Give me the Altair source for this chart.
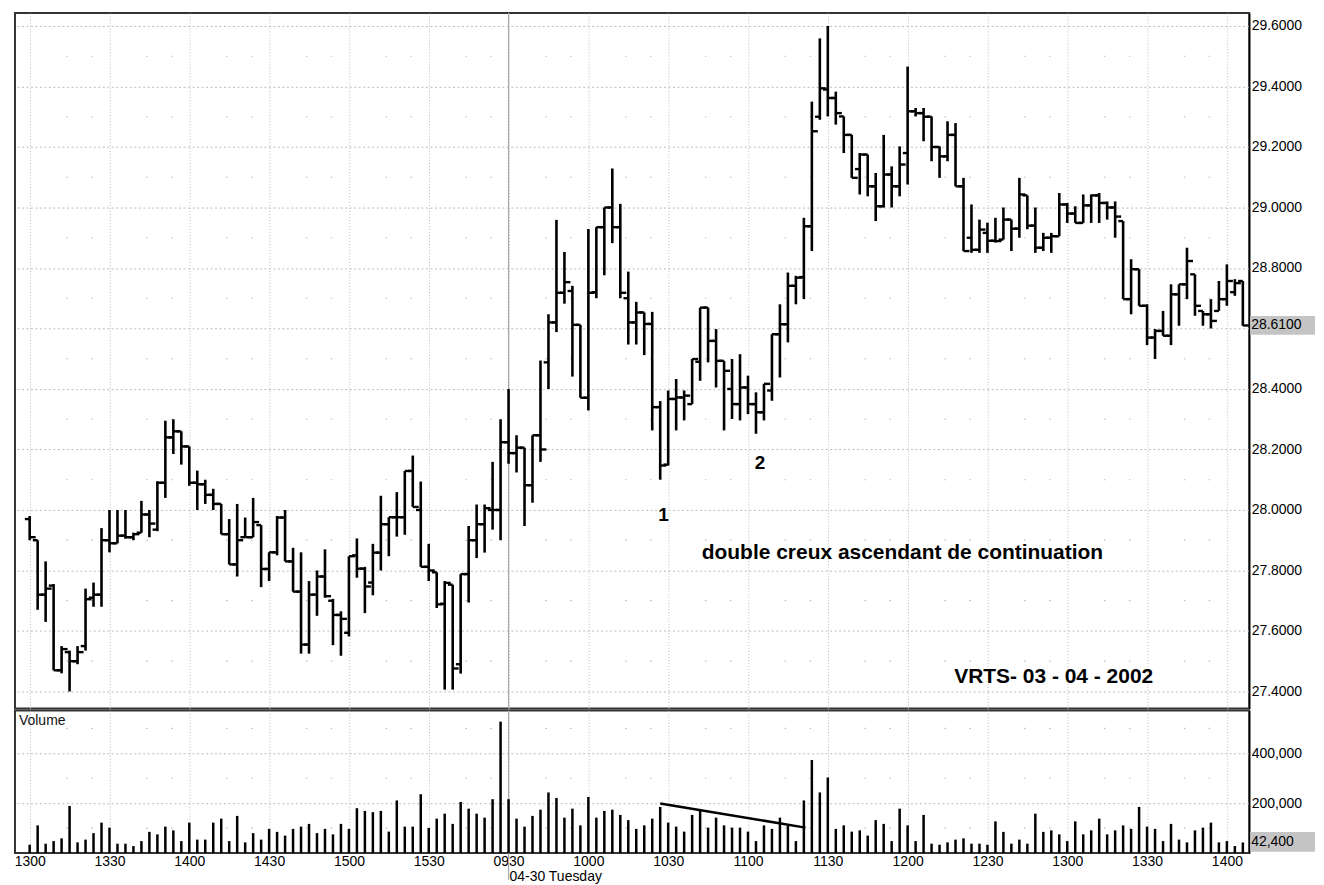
import json
import altair as alt
import pandas as pd

# ---------------- data ----------------
time_labels = ["1300", "1330", "1400", "1430", "1500", "1530", "0930", "1000",
               "1030", "1100", "1130", "1200", "1230", "1300", "1330", "1400"]

opens = [27.97, 27.90, 27.72, 27.75, 27.47, 27.53, 27.50, 27.55, 27.71, 27.72,
         27.90, 27.89, 27.915, 27.91, 27.925, 27.985, 27.935, 28.09, 28.24, 28.26,
         28.21, 28.09, 28.085, 28.05, 28.02, 27.92, 27.82, 27.91, 27.91, 27.95,
         27.805, 27.86, 27.975, 27.83, 27.73, 27.555, 27.72, 27.78, 27.70, 27.653,
         27.594, 27.85, 27.806, 27.76, 27.859, 27.953, 27.976, 27.976, 28.129, 28.0,
         27.812, 27.794, 27.69, 27.753, 27.49, 27.788, 27.90, 27.953, 28.0, 28.0,
         28.224, 28.188, 28.206, 28.082, 28.247, 28.488, 28.62, 28.718, 28.724, 28.612,
         28.371, 28.72, 28.935, 29.0, 28.935, 28.70, 28.62, 28.653, 28.615, 28.34,
         28.15, 28.367, 28.372, 28.35, 28.49, 28.669, 28.559, 28.493, 28.40, 28.35,
         28.405, 28.35, 28.323, 28.395, 28.581, 28.614, 28.741, 28.77, 28.938, 29.30,
         29.39, 29.362, 29.301, 29.24, 29.127, 29.175, 29.07, 29.004, 29.109, 29.07,
         29.18, 29.318, 29.312, 29.30, 29.20, 29.169, 29.24, 29.07, 28.90, 28.86,
         28.916, 28.89, 28.894, 28.96, 28.93, 29.04, 28.94, 28.867, 28.90, 28.905,
         29.01, 28.98, 28.949, 29.007, 29.04, 29.015, 29.0, 28.955, 28.697, 28.796,
         28.675, 28.57, 28.592, 28.576, 28.713, 28.746, 28.779, 28.658, 28.647, 28.658,
         28.697, 28.72, 28.757]

highs = [27.98, 27.90, 27.83, 27.755, 27.55, 27.535, 27.55, 27.74, 27.76, 27.94,
         28.00, 28.00, 28.00, 27.925, 28.03, 28.00, 28.095, 28.295, 28.30, 28.26,
         28.21, 28.13, 28.10, 28.07, 28.02, 27.97, 28.02, 27.975, 28.04, 27.95,
         27.86, 27.98, 28.00, 27.875, 27.86, 27.765, 27.80, 27.87, 27.706, 27.665,
         27.847, 27.906, 27.812, 27.888, 28.047, 27.976, 28.059, 28.129, 28.18, 28.094,
         27.888, 27.794, 27.765, 27.753, 27.788, 27.947, 28.018, 28.018, 28.159, 28.30,
         28.40, 28.247, 28.206, 28.247, 28.494, 28.647, 28.959, 28.853, 28.741, 28.612,
         28.929, 28.935, 29.00, 29.129, 29.012, 28.788, 28.688, 28.653, 28.655, 28.36,
         28.395, 28.433, 28.395, 28.499, 28.669, 28.669, 28.598, 28.493, 28.499, 28.515,
         28.444, 28.389, 28.417, 28.581, 28.68, 28.785, 28.774, 28.966, 29.35, 29.559,
         29.60, 29.383, 29.301, 29.24, 29.18, 29.175, 29.114, 29.24, 29.136, 29.202,
         29.466, 29.329, 29.329, 29.301, 29.202, 29.285, 29.279, 29.098, 29.01, 28.96,
         28.95, 28.966, 29.0, 28.96, 29.098, 29.04, 29.0, 28.916, 28.916, 29.048,
         29.015, 29.004, 29.043, 29.043, 29.048, 29.02, 29.02, 28.955, 28.829, 28.796,
         28.68, 28.598, 28.658, 28.746, 28.746, 28.867, 28.779, 28.658, 28.697, 28.757,
         28.812, 28.763, 28.757]

lows = [27.90, 27.67, 27.63, 27.47, 27.46, 27.40, 27.49, 27.535, 27.68, 27.68,
        27.86, 27.89, 27.905, 27.90, 27.925, 27.91, 27.93, 28.04, 28.185, 28.15,
        28.08, 28.00, 28.02, 28.00, 27.92, 27.82, 27.78, 27.91, 27.91, 27.745,
        27.765, 27.85, 27.83, 27.73, 27.525, 27.525, 27.65, 27.71, 27.553, 27.518,
        27.582, 27.776, 27.659, 27.718, 27.80, 27.847, 27.912, 27.918, 28.01, 27.812,
        27.765, 27.676, 27.406, 27.406, 27.459, 27.694, 27.841, 27.859, 27.935, 27.90,
        28.153, 28.124, 27.947, 28.024, 28.159, 28.40, 28.588, 28.682, 28.441, 28.371,
        28.329, 28.70, 28.776, 28.882, 28.70, 28.547, 28.547, 28.512, 28.263, 28.10,
        28.147, 28.263, 28.296, 28.35, 28.427, 28.488, 28.405, 28.263, 28.301, 28.296,
        28.317, 28.252, 28.296, 28.361, 28.438, 28.554, 28.68, 28.697, 28.856, 29.29,
        29.301, 29.274, 29.18, 29.098, 29.043, 29.037, 28.955, 29.0, 29.0, 29.037,
        29.076, 29.301, 29.219, 29.153, 29.098, 29.153, 29.07, 28.856, 28.85, 28.85,
        28.85, 28.884, 28.894, 28.856, 28.90, 28.928, 28.85, 28.856, 28.85, 28.905,
        28.949, 28.949, 28.949, 28.949, 28.949, 28.96, 28.90, 28.697, 28.647, 28.675,
        28.545, 28.499, 28.576, 28.545, 28.609, 28.697, 28.642, 28.609, 28.60, 28.658,
        28.675, 28.708, 28.609]

closes = [27.91, 27.72, 27.74, 27.47, 27.54, 27.50, 27.53, 27.705, 27.72, 27.90,
          27.89, 27.915, 27.91, 27.92, 27.985, 27.955, 28.09, 28.24, 28.26, 28.21,
          28.09, 28.085, 28.05, 28.02, 27.92, 27.82, 27.90, 27.91, 27.96, 27.805,
          27.86, 27.975, 27.83, 27.73, 27.555, 27.72, 27.78, 27.715, 27.653, 27.64,
          27.847, 27.806, 27.747, 27.859, 27.953, 27.976, 27.976, 28.129, 28.01, 27.812,
          27.80, 27.688, 27.759, 27.476, 27.788, 27.90, 27.953, 28.006, 28.0, 28.224,
          28.188, 28.206, 28.082, 28.247, 28.20, 28.62, 28.718, 28.753, 28.612, 28.371,
          28.718, 28.935, 29.00, 28.935, 28.718, 28.62, 28.653, 28.615, 28.34, 28.147,
          28.367, 28.372, 28.378, 28.499, 28.669, 28.559, 28.493, 28.46, 28.35, 28.405,
          28.35, 28.323, 28.417, 28.581, 28.614, 28.741, 28.768, 28.938, 29.252, 29.394,
          29.362, 29.312, 29.24, 29.098, 29.175, 29.07, 29.004, 29.109, 29.07, 29.142,
          29.318, 29.312, 29.30, 29.20, 29.169, 29.24, 29.07, 28.856, 28.86, 28.927,
          28.89, 28.889, 28.96, 28.93, 29.043, 28.94, 28.867, 28.90, 28.905, 29.01,
          28.98, 28.949, 29.007, 29.04, 29.015, 29.0, 28.97, 28.697, 28.796, 28.675,
          28.57, 28.592, 28.576, 28.713, 28.746, 28.823, 28.675, 28.647, 28.625, 28.697,
          28.757, 28.75, 28.61]

volumes = [33500, 111000, 37600, 48000, 59000, 189000, 43000, 54000, 80000, 122000,
           102000, 37600, 37600, 28000, 48000, 85000, 75000, 106000, 91000, 48000,
           122000, 54000, 54000, 122000, 138000, 48000, 149000, 43000, 80000, 54000,
           97000, 85000, 70000, 97000, 106000, 117000, 80000, 97000, 75000, 117000,
           97000, 180000, 169000, 164000, 169000, 86000, 211000, 106000, 106000, 236000,
           101000, 138000, 158000, 117000, 205000, 178000, 158000, 142000, 216000, 527000,
           216000, 138000, 106000, 149000, 174000, 243000, 221000, 142000, 178000, 111000,
           225000, 142000, 169000, 174000, 153000, 132000, 97000, 111000, 138000, 185000,
           122000, 106000, 86000, 153000, 169000, 102000, 142000, 111000, 102000, 102000,
           86000, 48000, 111000, 97000, 142000, 111000, 48000, 211000, 373000, 243000,
           303000, 97000, 111000, 86000, 91000, 70000, 132000, 117000, 48000, 178000,
           111000, 48000, 153000, 37600, 33500, 43000, 54000, 59000, 37600, 37600,
           33500, 127000, 85000, 37600, 54000, 37600, 158000, 85000, 91000, 75000,
           48000, 127000, 75000, 91000, 138000, 75000, 91000, 111000, 97000, 185000,
           106000, 97000, 48000, 117000, 54000, 43000, 91000, 102000, 122000, 43000,
           48000, 28000, 42400]

# volume trend line (bar index, volume)
trend_i = [79, 97.2]
trend_v = [199000, 102000]

# text annotations in the price panel (bar index, price)
note_text = ["1", "2", "double creux ascendant de continuation", "VRTS- 03 - 04 - 2002"]
note_i = [79.4, 91.5, 109.35, 128.3]
note_p = [27.984, 28.155, 27.859, 27.447]
note_size = [19, 19, 21, 21]

price_ticks = [27.4, 27.6, 27.8, 28.0, 28.2, 28.4, 28.6, 28.8, 29.0, 29.2, 29.4, 29.6]
price_minor = [27.5, 27.7, 27.9, 28.1, 28.3, 28.5, 28.7, 28.9, 29.1, 29.3, 29.5]
vol_ticks = [200000, 400000]
vol_minor = [100000, 300000, 500000]
day_break = 60  # first bar of 04-30

# ---------------- build ----------------
n = len(closes)
bars = pd.DataFrame({"i": list(range(n)), "open": opens, "high": highs,
                     "low": lows, "close": closes, "volume": volumes})

W, HP, HV = 1237, 697, 143
FONT = "Liberation Sans"
GRID = "#bcbcbc"

xs = alt.Scale(domain=[-1.84, 152.79], nice=False, zero=False)
ys = alt.Scale(domain=[27.344, 29.643], nice=False, zero=False)
vs = alt.Scale(domain=[0, 572000], nice=False, zero=False)

x_vals = list(range(0, 151, 10))
lab_expr = json.dumps(time_labels) + "[round(datum.value/10)]"

base = alt.Chart(bars)

# ---- price panel ----
price_grid = alt.Chart(pd.DataFrame({"p": price_minor})).mark_rule(
    color=GRID, strokeWidth=1.2, strokeDash=[1.5, 23.5, 1.5, 53.5], strokeDashOffset=41
).encode(y=alt.Y("p:Q", scale=ys, title=None))

sep_p = alt.Chart(pd.DataFrame({"i": [day_break]})).mark_rule(
    color="#a8a8a8", strokeWidth=1.2
).encode(x=alt.X("i:Q", scale=xs, title=None))

wicks = base.mark_rule(color="black", strokeWidth=2.6).encode(
    x=alt.X("i:Q", scale=xs, title=None,
            axis=alt.Axis(values=x_vals, labels=False, ticks=False, domain=False,
                          grid=True, gridDash=[1, 2], gridColor=GRID)),
    y=alt.Y("low:Q", scale=ys, title=None,
            axis=alt.Axis(orient="right", values=price_ticks,
                          labelExpr="abs(datum.value-28.6)<0.001 ? '' : format(datum.value, '.4f')",
                          grid=True, gridDash=[2, 2.5], gridColor=GRID,
                          domain=True, domainColor="black", domainWidth=1.5,
                          ticks=False, labelPadding=2, labelFontSize=14,
                          labelFont=FONT, labelColor="black", labelOverlap=False)),
    y2="high:Q",
)

open_ticks = base.transform_calculate(x0="datum.i - 0.6").mark_rule(
    color="black", strokeWidth=2.4
).encode(x=alt.X("x0:Q", scale=xs, title=None), x2="i:Q",
         y=alt.Y("open:Q", scale=ys, title=None))

close_ticks = base.transform_calculate(x1="datum.i + 0.75").mark_rule(
    color="black", strokeWidth=2.4
).encode(x=alt.X("i:Q", scale=xs, title=None), x2="x1:Q",
         y=alt.Y("close:Q", scale=ys, title=None))

notes = alt.Chart(pd.DataFrame({"t": note_text, "i": note_i, "p": note_p, "s": note_size})).mark_text(
    font=FONT, fontWeight="bold", color="black", align="center", baseline="middle"
).encode(x=alt.X("i:Q", scale=xs, title=None), y=alt.Y("p:Q", scale=ys, title=None),
         text="t:N", size=alt.Size("s:Q", scale=None, legend=None))

last = bars.tail(1)
last_box = alt.Chart(last).transform_calculate(
    lo="datum.close - 0.031", hi="datum.close + 0.031"
).mark_rect(color="#c4c4c4").encode(
    x=alt.value(W + 1), x2=alt.value(W + 66),
    y=alt.Y("lo:Q", scale=ys, title=None), y2="hi:Q")
last_txt = alt.Chart(last).mark_text(
    font=FONT, fontSize=14, align="left", baseline="middle", color="black"
).encode(x=alt.value(W + 2), y=alt.Y("close:Q", scale=ys, title=None),
         text=alt.Text("close:Q", format=".4f"))

price = alt.layer(price_grid, sep_p, wicks, open_ticks, close_ticks, notes,
                  last_box, last_txt).properties(width=W, height=HP)

# ---- volume panel ----
vol_grid = alt.Chart(pd.DataFrame({"v": vol_minor})).mark_rule(
    color=GRID, strokeWidth=1.2, strokeDash=[1.5, 23.5, 1.5, 53.5], strokeDashOffset=41
).encode(y=alt.Y("v:Q", scale=vs, title=None))

sep_v = alt.Chart(pd.DataFrame({"i": [day_break]})).mark_rule(
    color="#a8a8a8", strokeWidth=1.2
).encode(x=alt.X("i:Q", scale=xs, title=None), y=alt.value(0), y2=alt.value(HV + 27))

vbars = base.transform_calculate(zero="0").mark_rule(color="black", strokeWidth=2.5).encode(
    x=alt.X("i:Q", scale=xs, title=None,
            axis=alt.Axis(values=x_vals, labelExpr=lab_expr, ticks=False, domain=False,
                          grid=True, gridDash=[1, 2], gridColor=GRID, labelFlush=False,
                          labelPadding=1, labelFontSize=14, labelFont=FONT,
                          labelColor="black", labelOverlap=False)),
    y=alt.Y("volume:Q", scale=vs, title=None,
            axis=alt.Axis(orient="right", values=vol_ticks, format=",d",
                          grid=True, gridDash=[2, 2.5], gridColor=GRID,
                          domain=True, domainColor="black", domainWidth=1.5,
                          ticks=False, labelPadding=2, labelFontSize=14,
                          labelFont=FONT, labelColor="black")),
    y2="zero:Q",
)

trend = alt.Chart(pd.DataFrame({"i": trend_i, "v": trend_v})).mark_line(
    color="black", strokeWidth=2.5
).encode(x=alt.X("i:Q", scale=xs, title=None), y=alt.Y("v:Q", scale=vs, title=None))

vol_title = alt.Chart(pd.DataFrame({"t": ["Volume"]})).mark_text(
    font=FONT, fontSize=14, align="left", baseline="middle", color="#111"
).encode(x=alt.value(4), y=alt.value(11), text="t:N")

vlast_box = alt.Chart(last).transform_calculate(
    lo="datum.volume - 37000", hi="datum.volume + 42000"
).mark_rect(color="#c4c4c4").encode(
    x=alt.value(W + 1), x2=alt.value(W + 66),
    y=alt.Y("lo:Q", scale=vs, title=None), y2="hi:Q")
vlast_txt = alt.Chart(last).mark_text(
    font=FONT, fontSize=14, align="left", baseline="middle", color="black"
).encode(x=alt.value(W + 2), y=alt.Y("volume:Q", scale=vs, title=None),
         text=alt.Text("volume:Q", format=",d"))

day_txt = alt.Chart(pd.DataFrame({"i": [day_break], "t": ["04-30 Tuesday"]})).mark_text(
    font=FONT, fontSize=14, align="left", baseline="middle", color="black", dx=1
).encode(x=alt.X("i:Q", scale=xs, title=None), y=alt.value(HV + 24), text="t:N")

volume = alt.layer(vol_grid, sep_v, vbars, trend, vol_title, vlast_box, vlast_txt,
                   day_txt).properties(width=W, height=HV)

chart = alt.vconcat(price, volume, spacing=-2).properties(
    padding={"left": 5, "top": 2, "right": 0, "bottom": 0},
    background="white",
).configure_view(stroke="#333333", strokeWidth=2)

chart.save("out.html", embed_options={"renderer": "svg", "actions": False})
